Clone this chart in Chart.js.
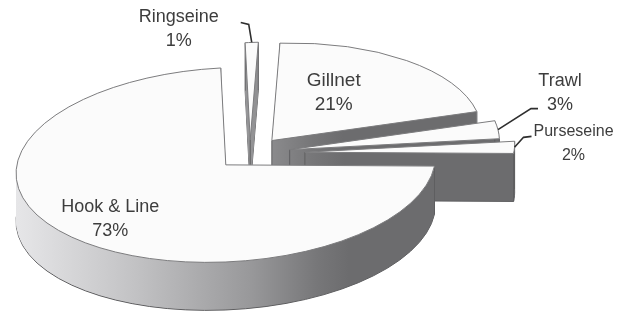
<!DOCTYPE html>
<html>
<head>
<meta charset="utf-8">
<script src="https://cdn.jsdelivr.net/npm/chart.js@4/dist/chart.umd.min.js"></script>
<style>
  html, body { margin: 0; padding: 0; background: #fff; }
  #gearChart { display: block; }
</style>
</head>
<body>
<canvas id="gearChart" width="622" height="315"></canvas>
<script>
var gearTypes = ['Ringseine', 'Gillnet', 'Trawl', 'Purseseine', 'Hook & Line'];
var gearShares = [1, 21, 3, 2, 73];
var shareLabels = ['1%', '21%', '3%', '2%', '73%'];

// how far each slice is pulled out (px, in the flat pie before tilting)
var explode = [30, 34, 40, 55, 33];

var TILT = 0.462;          // squash of the pie plane
var SPIN = -3 * Math.PI / 180;
var DEPTH = 48;            // thickness of the pie, screen px
var EDGE = '#7c7c7e';
var TEXT = '#3d3d3d';

// label layout : t = where along the slice, r = fraction of radius
var labelSpots = [
	{t: 0.5, r: 1, leader: [[-3, -18], [-11, -20]], text: [-73, -25], size: 18},
	{t: 0.4, r: 0.55, size: 19},
	{t: 0.5, r: 1, leader: [[33, -21], [40, -21]], text: [62, -49], size: 18},
	{t: 0.5, r: 1, leader: [[9, -10], [17, -11]], text: [59, -16], size: 16},
	{t: 0.5, r: 0.75, size: 18}
];

function slideOut(arc, i){
	var mid = (arc.startAngle + arc.endAngle) / 2;
	return {x: Math.cos(mid) * explode[i], y: Math.sin(mid) * explode[i]};
}

function inPlane(ctx, arc, shift, drop, fn){
	ctx.save();
	ctx.translate(arc.x, arc.y + drop);
	ctx.rotate(SPIN);
	ctx.scale(1, TILT);
	ctx.translate(-arc.x + shift.x, -arc.y + shift.y);
	fn();
	ctx.restore();
}

function toScreen(arc, shift, angle, r){
	var ux = shift.x + Math.cos(angle) * r;
	var uy = (shift.y + Math.sin(angle) * r) * TILT;
	return {
		x: arc.x + ux * Math.cos(SPIN) - uy * Math.sin(SPIN),
		y: arc.y + ux * Math.sin(SPIN) + uy * Math.cos(SPIN)
	};
}

// draw the library arc with some options swapped, strokes kept 1px on screen
function paintArc(ctx, arc, extra){
	var saved = arc.options;
	arc.options = Object.assign({}, saved, extra);
	var stroke = ctx.stroke;
	ctx.stroke = function(){
		ctx.save();
		ctx.setTransform(1, 0, 0, 1, 0, 0);
		stroke.apply(ctx, arguments);
		ctx.restore();
	};
	arc.draw(ctx);
	delete ctx.stroke;
	arc.options = saved;
}

var pie3d = {
	id: 'pie3d',
	beforeDatasetDraw: function(chart, args){
		var ctx = chart.ctx;
		var arcs = args.meta.data;

		arcs.forEach(function(arc, i){
			var shift = slideOut(arc, i);
			var from = arc.x - arc.outerRadius - 25 - shift.x;
			var to = arc.x + 0.45 * arc.outerRadius - shift.x;
			var wall = ctx.createLinearGradient(from, 0, to, 0);
			wall.addColorStop(0, '#e6e6e8');
			wall.addColorStop(0.35, '#c2c2c4');
			wall.addColorStop(0.7, '#98989a');
			wall.addColorStop(0.9, '#777779');
			wall.addColorStop(1, '#6c6c6e');

			for (var d = DEPTH; d >= 1; d--) {
				inPlane(ctx, arc, shift, d, function(){
					paintArc(ctx, arc, {
						backgroundColor: wall,
						borderWidth: d === DEPTH ? 1 : 0,
						borderColor: '#5e5e60'
					});
				});
			}

			// upright edges of the slice
			ctx.save();
			ctx.strokeStyle = '#5e5e60';
			ctx.lineWidth = 1;
			[toScreen(arc, shift, 0, 0),
			 toScreen(arc, shift, arc.startAngle, arc.outerRadius),
			 toScreen(arc, shift, arc.endAngle, arc.outerRadius)].forEach(function(p){
				ctx.beginPath();
				ctx.moveTo(p.x, p.y);
				ctx.lineTo(p.x, p.y + DEPTH);
				ctx.stroke();
			});
			ctx.restore();

			inPlane(ctx, arc, shift, 0, function(){
				paintArc(ctx, arc, {});
			});
		});
		return false;
	},
	afterDatasetsDraw: function(chart){
		var ctx = chart.ctx;
		var arcs = chart.getDatasetMeta(0).data;

		ctx.save();
		ctx.fillStyle = TEXT;
		ctx.strokeStyle = '#2e2e2e';
		ctx.textAlign = 'center';
		ctx.textBaseline = 'middle';

		arcs.forEach(function(arc, i){
			var spot = labelSpots[i];
			var shift = slideOut(arc, i);
			var angle = arc.startAngle + (arc.endAngle - arc.startAngle) * spot.t;
			var p = toScreen(arc, shift, angle, arc.outerRadius * spot.r);
			var tx = p.x, ty = p.y - 12;

			if (spot.leader) {
				ctx.lineWidth = 1.6;
				ctx.beginPath();
				ctx.moveTo(p.x, p.y);
				spot.leader.forEach(function(step){
					ctx.lineTo(p.x + step[0], p.y + step[1]);
				});
				ctx.stroke();
				tx = p.x + spot.text[0];
				ty = p.y + spot.text[1];
			}

			ctx.font = spot.size + 'px "Liberation Sans", Arial, sans-serif';
			ctx.fillText(gearTypes[i], tx, ty);
			ctx.fillText(shareLabels[i], tx, ty + 24);
		});
		ctx.restore();
	}
};

new Chart(document.getElementById('gearChart'), {
	type: 'pie',
	data: {
		labels: gearTypes,
		datasets: [{
			data: gearShares,
			backgroundColor: '#fbfbfb',
			borderColor: EDGE,
			borderWidth: 1,
			offset: 0
		}]
	},
	options: {
		responsive: false,
		animation: false,
		events: [],
		radius: 210,
		layout: {padding: {left: 0, right: 122, top: 0, bottom: 8}},
		plugins: {
			legend: {display: false},
			tooltip: {enabled: false}
		}
	},
	plugins: [pie3d]
});
</script>
</body>
</html>
